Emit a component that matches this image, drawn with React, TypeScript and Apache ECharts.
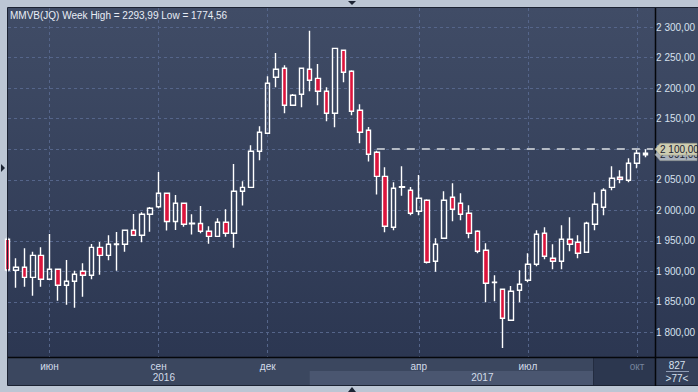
import React, { useEffect, useRef } from 'react';
import * as echarts from 'echarts';

const title = 'MMVB(JQ) Week High = 2293,99 Low = 1774,56';

const opens = [
  1952.5, 1901.8, 1906.7, 1890.3, 1926.3, 1887.1, 1903.4, 1877.3, 1883.8, 1900.2,
  1893.6, 1939.4, 1926.3, 1944.0, 1944.4, 1967.3, 1959.1, 1993.5, 2005.9, 2027.8,
  1981.7, 2011.5, 1977.9, 1978.4, 1965.6, 1957.4, 1980.4, 1962.4, 2031.1, 2037.6,
  2096.6, 2126.0, 2217.7, 2232.4, 2171.9, 2189.9, 2230.8, 2216.0, 2194.8, 2158.8,
  2261.9, 2227.5, 2163.7, 2130.9, 2094.9, 2055.6, 1972.2, 2037.6, 2032.7, 1998.4,
  2016.4, 1916.5, 1954.2, 2021.3, 2011.5, 1995.1, 1965.6, 1934.5, 1881.8, 1870.7,
  1820.0, 1869.1, 1885.4, 1911.6, 1962.4, 1921.4, 1916.5, 1952.5, 1947.6, 1931.3,
  1977.1, 2004.9, 2037.6, 2054.0, 2049.1, 2076.9, 2093.3,
];
const closes = [
  1902.3, 1906.7, 1890.3, 1926.3, 1887.1, 1903.4, 1877.3, 1883.8, 1895.3, 1893.6,
  1939.4, 1926.3, 1944.4, 1944.8, 1967.3, 1959.1, 1993.5, 2003.3, 2027.8, 1981.7,
  2011.5, 1977.1, 1978.7, 1965.6, 1957.4, 1980.4, 1962.4, 2031.1, 2037.6, 2096.6,
  2127.7, 2207.9, 2230.8, 2171.9, 2188.2, 2232.4, 2212.8, 2194.8, 2158.8, 2265.1,
  2225.9, 2162.0, 2127.7, 2091.7, 2055.6, 1973.8, 2036.0, 2038.5, 1995.1, 2019.6,
  1914.9, 1944.4, 2016.4, 2001.6, 1993.5, 1962.4, 1932.9, 1880.5, 1882.5, 1823.2,
  1867.4, 1878.9, 1911.6, 1960.7, 1924.7, 1916.5, 1952.5, 1944.4, 1929.6, 1978.7,
  2009.8, 2032.7, 2052.4, 2050.7, 2076.9, 2093.3, 2091.0,
];
const lows = [
  1899.0, 1873.3, 1874.9, 1860.2, 1874.9, 1885.9, 1852.0, 1845.5, 1840.6, 1858.6,
  1887.1, 1894.6, 1918.2, 1901.1, 1932.2, 1959.1, 1947.6, 1965.0, 2003.3, 1966.9,
  1967.8, 1973.2, 1960.4, 1962.4, 1945.2, 1957.4, 1956.8, 1938.8, 2007.9, 2037.6,
  2081.8, 2126.0, 2201.3, 2158.8, 2171.9, 2168.6, 2194.8, 2171.9, 2145.7, 2135.8,
  2209.5, 2155.5, 2109.7, 2079.9, 2025.9, 1964.0, 1967.3, 2023.9, 1991.8, 1991.8,
  1912.9, 1899.5, 1954.2, 1982.0, 1983.6, 1954.2, 1929.6, 1849.4, 1851.1, 1774.56,
  1820.0, 1849.4, 1882.2, 1908.3, 1919.8, 1903.4, 1903.4, 1932.9, 1921.4, 1931.3,
  1967.3, 1991.8, 2032.7, 2044.2, 2045.8, 2068.7, 2086.7,
];
const highs = [
  1956.3, 1921.4, 1937.8, 1932.2, 1939.4, 1961.2, 1903.4, 1918.7, 1901.1, 1913.3,
  1944.8, 1948.1, 1959.1, 1964.5, 1967.3, 1993.9, 1996.7, 2005.4, 2062.7, 2027.8,
  2025.0, 2011.5, 1993.6, 2007.0, 1974.0, 1987.1, 2001.8, 2075.8, 2047.5, 2106.4,
  2137.5, 2219.3, 2257.5, 2237.3, 2190.3, 2232.4, 2293.99, 2239.4, 2201.3, 2265.1,
  2261.9, 2229.1, 2173.5, 2136.3, 2097.5, 2070.4, 2045.8, 2072.0, 2038.1, 2057.8,
  2018.0, 1954.2, 2031.1, 2044.2, 2027.8, 2008.2, 1967.3, 1946.0, 1893.6, 1870.7,
  1876.1, 1901.8, 1929.6, 1967.3, 1972.2, 1944.4, 1975.4, 1988.5, 1959.1, 1981.3,
  2029.5, 2036.0, 2072.0, 2065.5, 2085.1, 2101.5, 2099.8,
];

const monthTicks = [5, 18, 31, 49, 62, 75];
const monthLabels = ['июн', 'сен', 'дек', 'апр', 'июл', 'окт'];
const priceTicks = [1800, 1850, 1900, 1950, 2000, 2050, 2100, 2150, 2200, 2250, 2300];
const yearLabels = ['2016', '2017'];
const levelValue = 2100;
const levelStart = 44;
const lastPrice = 2091;
const barsTotal = '827';
const barsVisible = '>77<';

const FONT = 'Liberation Sans, Arial, sans-serif';

function fmtPrice(v: number): string {
  const th = Math.floor(v / 1000);
  const rest = Math.round(v - th * 1000);
  return `${th} ${String(rest).padStart(3, '0')},00`;
}

export default function App() {
  const ref = useRef<HTMLDivElement>(null);

  useEffect(() => {
    if (!ref.current) return;
    const chart = echarts.init(ref.current, null, { renderer: 'svg' });
    const xMin = 0.05;
    const xMax = 76.92;
    const data = opens.map((o, i) => [i, o, closes[i], lows[i], highs[i]]);
    const gridLine = { show: true, lineStyle: { color: '#55658a', width: 1, type: [3, 3] as any } };

    chart.setOption({
      animation: false,
      backgroundColor: 'transparent',
      grid: { left: 8, right: 43, top: 8, bottom: 35, containLabel: false },
      xAxis: {
        type: 'value',
        min: xMin,
        max: xMax,
        axisLine: { show: false },
        axisTick: { show: false, customValues: monthTicks },
        splitLine: gridLine,
        axisLabel: {
          customValues: monthTicks,
          margin: 4,
          fontSize: 10,
          fontFamily: FONT,
          color: (v: any) => (Number(v) === 75 ? '#75839c' : '#d3dcea'),
          formatter: (v: number) => {
            const k = monthTicks.indexOf(Math.round(v));
            return k >= 0 ? monthLabels[k] : '';
          },
        },
      },
      yAxis: {
        type: 'value',
        position: 'right',
        min: 1759.9,
        max: 2331.1,
        axisLine: { show: false },
        axisTick: { show: false, customValues: priceTicks },
        splitLine: gridLine,
        axisLabel: {
          customValues: priceTicks,
          margin: 3,
          fontSize: 10,
          fontFamily: FONT,
          color: '#d6e0ee',
          formatter: (v: number) => fmtPrice(v),
        },
      },
      series: [
        {
          type: 'candlestick',
          data,
          encode: { x: 0, y: [1, 2, 3, 4] },
          barWidth: 5,
          clip: true,
          itemStyle: {
            color: 'transparent',
            color0: '#dc143c',
            borderColor: '#ffffff',
            borderColor0: '#ffffff',
            borderWidth: 1.4,
          },
          markLine: {
            silent: true,
            symbol: ['none', 'none'],
            label: { show: false },
            lineStyle: { color: '#b3b9c3', width: 2, type: [8, 7] as any },
            data: [[{ coord: [levelStart, levelValue] }, { coord: [xMax, levelValue] }]],
          },
        },
      ],
    });

    const y1 = chart.convertToPixel({ yAxisIndex: 0 }, levelValue) as number;
    const y2 = chart.convertToPixel({ yAxisIndex: 0 }, lastPrice) as number;
    const xs = monthTicks.map((t) => chart.convertToPixel({ xAxisIndex: 0 }, t) as number);
    const x2017 = chart.convertToPixel({ xAxisIndex: 0 }, 36) as number;

    const tag = (y: number, fill: string, text: string, z: number) => [
      {
        type: 'polygon',
        z,
        shape: { points: [[655, y], [660, y - 6], [697, y - 6], [697, y + 6], [660, y + 6]] },
        style: { fill, stroke: '#8d8f80', lineWidth: 0.5 },
      },
      {
        type: 'text',
        z: z + 1,
        x: 660,
        y,
        style: { text, fill: '#1b2230', font: `10px ${FONT}`, verticalAlign: 'middle', textAlign: 'left' },
      },
    ];

    chart.setOption({
      graphic: [
        {
          type: 'rect',
          z: -10,
          shape: { x: 8, y: 8, width: 690, height: 378 },
          style: {
            fill: new echarts.graphic.LinearGradient(0, 0, 0, 1, [
              { offset: 0, color: '#404c66' },
              { offset: 1, color: '#2a3550' },
            ]),
          },
        },
        { type: 'rect', z: -5, shape: { x: 8, y: 358, width: 647, height: 27 }, style: { fill: '#3b475f' } },
        { type: 'rect', z: -4, shape: { x: x2017, y: 371, width: 593 - x2017, height: 14 }, style: { fill: '#4a5670' } },
        { type: 'rect', z: -4, shape: { x: 593, y: 358, width: 62, height: 27 }, style: { fill: '#2c374f' } },
        { type: 'line', z: -3, shape: { x1: 593.5, y1: 358, x2: 593.5, y2: 385 }, style: { stroke: '#232c40', lineWidth: 1 } },
        { type: 'rect', z: -5, shape: { x: 656, y: 358, width: 42, height: 27 }, style: { fill: '#34405a' } },
        // frame lines
        { type: 'rect', z: 50, shape: { x: 7.5, y: 7.5, width: 691, height: 378 }, style: { fill: 'none', stroke: '#1b2232', lineWidth: 1 } },
        { type: 'line', z: 50, shape: { x1: 655.5, y1: 8, x2: 655.5, y2: 386 }, style: { stroke: '#05070b', lineWidth: 1.5 } },
        { type: 'line', z: 50, shape: { x1: 8, y1: 357.5, x2: 698, y2: 357.5 }, style: { stroke: '#05070b', lineWidth: 1.5 } },
        // title
        {
          type: 'text',
          z: 50,
          x: 10,
          y: 15,
          style: { text: title, fill: '#e8edf6', font: `10px ${FONT}`, verticalAlign: 'middle' },
        },
        // year labels
        {
          type: 'text',
          z: 50,
          x: (8 + x2017) / 2 + 5,
          y: 377,
          style: { text: yearLabels[0], fill: '#d3dcea', font: `10px ${FONT}`, textAlign: 'center', verticalAlign: 'middle' },
        },
        {
          type: 'text',
          z: 50,
          x: (x2017 + 655) / 2,
          y: 377,
          style: { text: yearLabels[1], fill: '#d3dcea', font: `10px ${FONT}`, textAlign: 'center', verticalAlign: 'middle' },
        },
        // bars counter
        {
          type: 'text',
          z: 50,
          x: 677,
          y: 365,
          style: { text: barsTotal, fill: '#d6e0ee', font: `10px ${FONT}`, textAlign: 'center', verticalAlign: 'middle' },
        },
        { type: 'line', z: 50, shape: { x1: 666, y1: 371.5, x2: 689, y2: 371.5 }, style: { stroke: '#8f9cb4', lineWidth: 1 } },
        {
          type: 'text',
          z: 50,
          x: 677,
          y: 378.5,
          style: { text: barsVisible, fill: '#d6e0ee', font: `10px ${FONT}`, textAlign: 'center', verticalAlign: 'middle' },
        },
        // small triangles on the frame
        { type: 'polygon', z: 50, shape: { points: [[348, 1], [356, 1], [352, 5]] }, style: { fill: '#1c2433' } },
        { type: 'polygon', z: 50, shape: { points: [[1, 164], [1, 172], [5, 168]] }, style: { fill: '#1c2433' } },
        { type: 'polygon', z: 50, shape: { points: [[348, 392], [356, 392], [352, 387]] }, style: { fill: '#1c2433' } },
        ...tag(y2, '#aab2bc', fmtPrice(lastPrice), 60),
        ...tag(y1, '#cecdb1', fmtPrice(levelValue), 70),
      ],
    });
    void xs;

    return () => chart.dispose();
  }, []);

  return (
    <div
      ref={ref}
      style={{ position: 'fixed', left: 0, top: 0, width: 698, height: 392, background: '#bcc6d4' }}
    />
  );
}
